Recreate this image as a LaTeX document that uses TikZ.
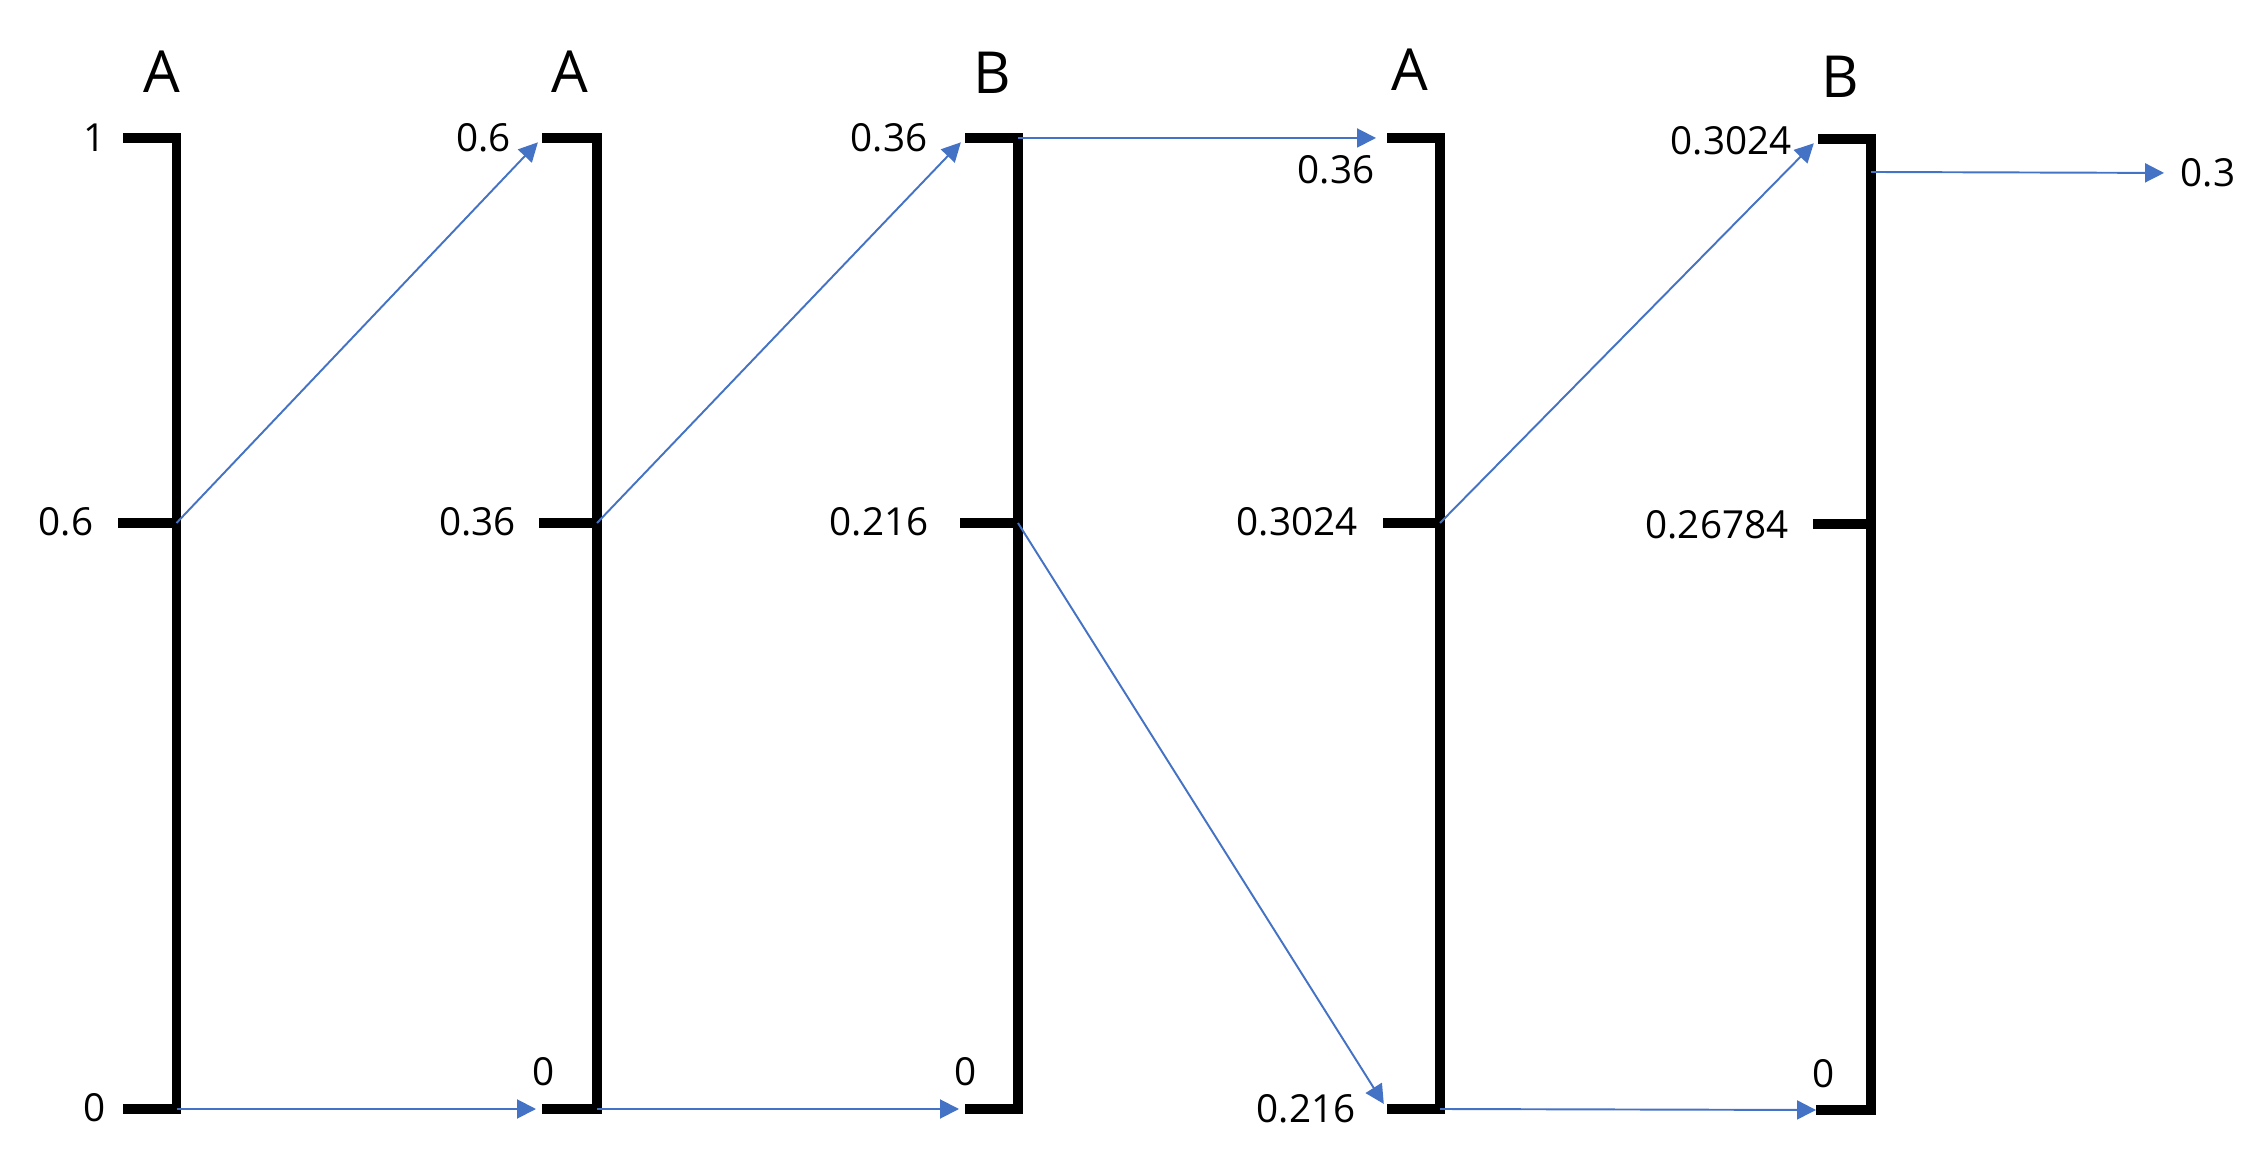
\documentclass[tikz,border=0pt]{standalone}
\usepackage{fontspec}
\setmainfont{Open Sans}
\usetikzlibrary{arrows.meta}
\definecolor{flowblue}{HTML}{4472C4}

\begin{document}
\begin{tikzpicture}[
    bar/.style={line width=2.6pt, line join=miter},
    flow/.style={draw=flowblue, line width=0.55pt, -{Triangle[length=1.9mm, width=1.9mm]}, shorten >=0.6mm},
    num/.style={inner sep=0pt, font=\fontsize{11}{13}\selectfont},
    letter/.style={inner sep=0pt, font=\fontsize{16.5}{20}\selectfont}
]
    \useasboundingbox (0,0) rectangle (22.52,11.72);

    % Define the points of the bars
    \coordinate (t1) at (1.765,10.34);
    \coordinate (m1) at (1.765,6.49);
    \coordinate (b1) at (1.765,0.63);
    \coordinate (tl1) at (1.23,10.34);
    \coordinate (ml1) at (1.18,6.49);
    \coordinate (bl1) at (1.23,0.63);

    \coordinate (t2) at (5.97,10.34);
    \coordinate (m2) at (5.97,6.49);
    \coordinate (b2) at (5.97,0.63);
    \coordinate (tl2) at (5.42,10.34);
    \coordinate (ml2) at (5.39,6.49);
    \coordinate (bl2) at (5.42,0.63);

    \coordinate (t3) at (10.18,10.34);
    \coordinate (m3) at (10.18,6.49);
    \coordinate (b3) at (10.18,0.63);
    \coordinate (tl3) at (9.65,10.34);
    \coordinate (ml3) at (9.60,6.49);
    \coordinate (bl3) at (9.65,0.63);

    \coordinate (t4) at (14.40,10.34);
    \coordinate (m4) at (14.40,6.49);
    \coordinate (b4) at (14.40,0.63);
    \coordinate (tl4) at (13.87,10.34);
    \coordinate (ml4) at (13.83,6.49);
    \coordinate (bl4) at (13.87,0.63);

    \coordinate (t5) at (18.71,10.33);
    \coordinate (m5) at (18.71,6.48);
    \coordinate (b5) at (18.71,0.62);
    \coordinate (tl5) at (18.18,10.33);
    \coordinate (ml5) at (18.13,6.48);
    \coordinate (bl5) at (18.16,0.62);
    \coordinate (o5) at (18.71,10.00);

    % Draw the bars
    \draw[bar] (tl1) -- (t1) -- (b1) -- (bl1);
    \draw[bar] (ml1) -- (m1);
    \draw[bar] (tl2) -- (t2) -- (b2) -- (bl2);
    \draw[bar] (ml2) -- (m2);
    \draw[bar] (tl3) -- (t3) -- (b3) -- (bl3);
    \draw[bar] (ml3) -- (m3);
    \draw[bar] (tl4) -- (t4) -- (b4) -- (bl4);
    \draw[bar] (ml4) -- (m4);
    \draw[bar] (tl5) -- (t5) -- (b5) -- (bl5);
    \draw[bar] (ml5) -- (m5);

    % Place the letters above the bars
    \node (h1) at (1.615,11.00) [letter] {A};
    \node (h2) at (5.70,11.00) [letter] {A};
    \node (h3) at (9.92,10.99) [letter] {B};
    \node (h4) at (14.10,11.02) [letter] {A};
    \node (h5) at (18.40,10.95) [letter] {B};

    % Place the values next to the ticks
    \node (v1t) at (0.945,10.34) [num] {1};
    \node (v1m) at (0.66,6.50) [num] {0.6};
    \node (v1b) at (0.95,0.64) [num] {0};
    \node (v2t) at (4.835,10.34) [num] {0.6};
    \node (v2m) at (4.775,6.50) [num] {0.36};
    \node (v2b) at (5.44,1.00) [num] {0};
    \node (v3t) at (8.89,10.34) [num] {0.36};
    \node (v3m) at (8.79,6.50) [num] {0.216};
    \node (v3b) at (9.66,1.00) [num] {0};
    \node (v4t) at (13.36,10.02) [num] {0.36};
    \node (v4m) at (12.97,6.50) [num] {0.3024};
    \node (v4b) at (13.06,0.63) [num] {0.216};
    \node (v5t) at (17.31,10.31) [num] {0.3024};
    \node (v5m) at (17.17,6.47) [num] {0.26784};
    \node (v5b) at (18.24,0.98) [num] {0};
    \node (res) at (22.08,9.99) [num] {0.3};

    % Draw the arrows between the bars
    \draw[flow] (m1) -- (tl2);
    \draw[flow] (b1) -- (bl2);
    \draw[flow] (m2) -- (tl3);
    \draw[flow] (b2) -- (bl3);
    \draw[flow, shorten >=1.1mm] (t3) -- (tl4);
    \draw[flow] (m3) -- (bl4);
    \draw[flow] (m4) -- (tl5);
    \draw[flow, shorten >=0pt] (b4) -- (bl5);
    \draw[flow, shorten >=1.6mm] (o5) -- (res.west);

\end{tikzpicture}
\end{document}
